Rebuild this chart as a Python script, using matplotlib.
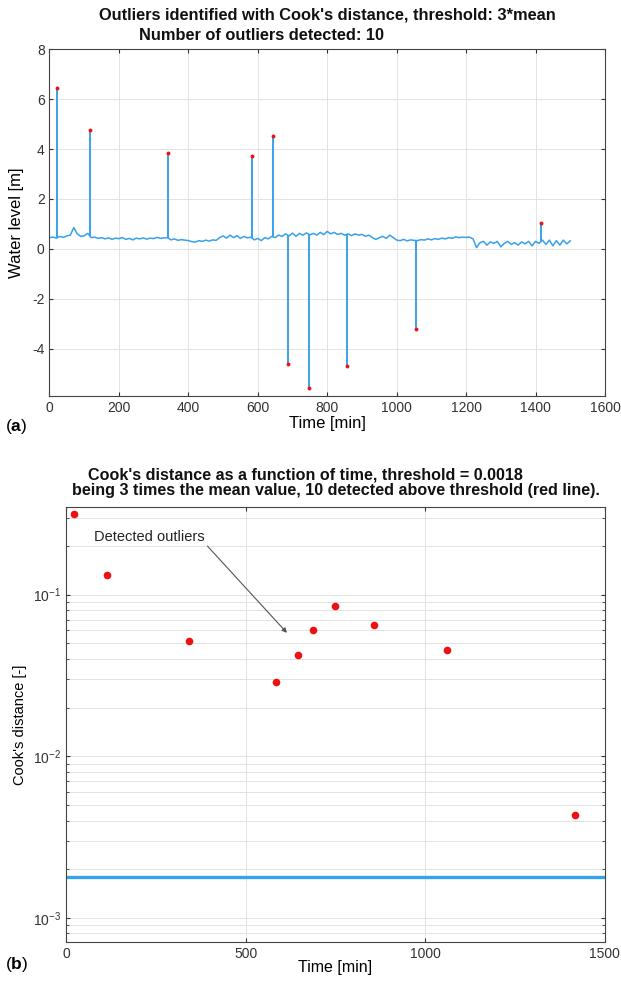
import numpy as np
import matplotlib.pyplot as plt
from matplotlib.ticker import LogLocator, NullFormatter

plt.rcParams['font.family'] = ['Liberation Sans', 'DejaVu Sans']
plt.rcParams['mathtext.fontset'] = 'custom'
plt.rcParams['mathtext.rm'] = 'Liberation Sans'
plt.rcParams['mathtext.bf'] = 'Liberation Sans:bold'
plt.rcParams['axes.unicode_minus'] = False

time_step = 10
level = [0.45, 0.47, 0.43, 0.50, 0.46, 0.52, 0.55, 0.85, 0.60, 0.50,
         0.52, 0.62, 0.45, 0.47, 0.42, 0.45, 0.40, 0.44, 0.38, 0.43,
         0.41, 0.45, 0.38, 0.42, 0.36, 0.43, 0.40, 0.44, 0.39, 0.43,
         0.41, 0.46, 0.42, 0.44, 0.45, 0.36, 0.40, 0.34, 0.37, 0.35,
         0.33, 0.29, 0.27, 0.33, 0.30, 0.35, 0.31, 0.36, 0.34, 0.45,
         0.52, 0.43, 0.55, 0.45, 0.53, 0.42, 0.50, 0.44, 0.47, 0.36,
         0.42, 0.33, 0.45, 0.40, 0.50, 0.45, 0.55, 0.50, 0.60, 0.52,
         0.63, 0.50, 0.62, 0.55, 0.64, 0.56, 0.62, 0.55, 0.66, 0.57,
         0.70, 0.60, 0.66, 0.58, 0.62, 0.55, 0.60, 0.53, 0.60, 0.55,
         0.58, 0.50, 0.55, 0.45, 0.38, 0.45, 0.50, 0.42, 0.55, 0.45,
         0.35, 0.33, 0.38, 0.32, 0.36, 0.34, 0.33, 0.37, 0.35, 0.40,
         0.36, 0.41, 0.38, 0.43, 0.40, 0.45, 0.42, 0.48, 0.45, 0.47,
         0.46, 0.47, 0.40, 0.05, 0.25, 0.30, 0.15, 0.28, 0.22, 0.30,
         0.08, 0.22, 0.30, 0.18, 0.25, 0.15, 0.28, 0.20, 0.30, 0.12,
         0.30, 0.22, 0.35, 0.18, 0.35, 0.12, 0.33, 0.15, 0.35, 0.20,
         0.32]
t = np.arange(len(level)) * time_step

# detected outliers
out_t = [23, 117, 342, 584, 643, 688, 748, 857, 1057, 1417]
out_level = [6.43, 4.76, 3.84, 3.71, 4.54, -4.60, -5.57, -4.70, -3.20, 1.04]
cook_t = [22, 115, 343, 585, 645, 688, 749, 857, 1060, 1418]
cook_d = [0.316, 0.133, 0.0514, 0.0289, 0.0423, 0.0607, 0.0851, 0.0652, 0.0452, 0.00431]
threshold = 0.0018

blue = '#36a2eb'
red = '#ee1111'
gridc = '#e3e3e3'
axc = '#333333'

fig = plt.figure(figsize=(6.21, 9.83), dpi=100)

# (a) water level
ax1 = fig.add_axes([0.0797, 0.597, 0.8945, 0.353])
ax1.plot(t, level, color=blue, lw=1.1)
base = np.interp(out_t, t, level)
ax1.vlines(out_t, base, out_level, color=blue, lw=1.4)
ax1.plot(out_t, out_level, 'o', color=red, ms=2.8, mec='none')
ax1.set_xlim(0, 1600)
ax1.set_ylim(-5.9, 8)
ax1.set_xticks(np.arange(0, 1601, 200))
ax1.set_yticks([-4, -2, 0, 2, 4, 6, 8])
ax1.set_xlabel('Time [min]', fontsize=12, labelpad=1)
ax1.set_ylabel('Water level [m]', fontsize=12, labelpad=6)
ax1.grid(True, color=gridc, lw=0.7)

# (b) Cook's distance
ax2 = fig.add_axes([0.1063, 0.0414, 0.8677, 0.4431])
ax2.set_yscale('log')
ax2.axhline(threshold, color=blue, lw=2.4)
ax2.plot(cook_t, cook_d, 'o', color=red, ms=5.5, mec='none')
ax2.set_xlim(0, 1500)
ax2.set_ylim(7.05e-4, 0.35)
ax2.set_xticks([0, 500, 1000, 1500])
ax2.yaxis.set_major_locator(LogLocator(base=10, numticks=10))
ax2.yaxis.set_minor_locator(LogLocator(base=10, subs=np.arange(2, 10), numticks=10))
ax2.yaxis.set_minor_formatter(NullFormatter())
ax2.set_xlabel('Time [min]', fontsize=11.5, labelpad=-1)
ax2.set_ylabel("Cook's distance [-]", fontsize=10.5, labelpad=4)
ax2.grid(True, which='major', color=gridc, lw=0.7)
ax2.grid(True, which='minor', axis='y', color=gridc, lw=0.7)
ax2.annotate('Detected outliers', xy=(615, 0.058), xytext=(78, 0.226),
             fontsize=10.5, color='#222222', va='center',
             arrowprops=dict(arrowstyle='-|>', color='#555555', lw=0.8,
                             mutation_scale=7, shrinkA=0, shrinkB=0,
                             relpos=(1.0, 0.1)))

for ax in (ax1, ax2):
    ax.set_axisbelow(True)
    ax.tick_params(which='both', direction='in', top=True, right=True,
                   colors=axc, labelsize=10, length=3)
    ax.tick_params(which='minor', length=2)
    for s in ax.spines.values():
        s.set_color('#444444')
        s.set_linewidth(0.8)

H = 983.0
W = 621.0
fig.text(327 / W, 1 - 20 / H, "Outliers identified with Cook's distance, threshold: 3*mean",
         ha='center', va='baseline', fontsize=11.8, fontweight='bold', color='#111111')
fig.text(139 / W, 1 - 39.5 / H, 'Number of outliers detected: 10',
         ha='left', va='baseline', fontsize=11.8, fontweight='bold', color='#111111')
fig.text(88 / W, 1 - 480 / H, "Cook's distance as a function of time, threshold = 0.0018",
         ha='left', va='baseline', fontsize=11.65, fontweight='bold', color='#111111')
fig.text(72 / W, 1 - 495 / H, 'being 3 times the mean value, 10 detected above threshold (red line).',
         ha='left', va='baseline', fontsize=11.65, fontweight='bold', color='#111111')

fig.text(5 / W, 1 - 426 / H, r'($\mathbf{a}$)', fontsize=12.5, va='center')
fig.text(5 / W, 1 - 964 / H, r'($\mathbf{b}$)', fontsize=12.5, va='center')

fig.savefig('out.png', dpi=100)
